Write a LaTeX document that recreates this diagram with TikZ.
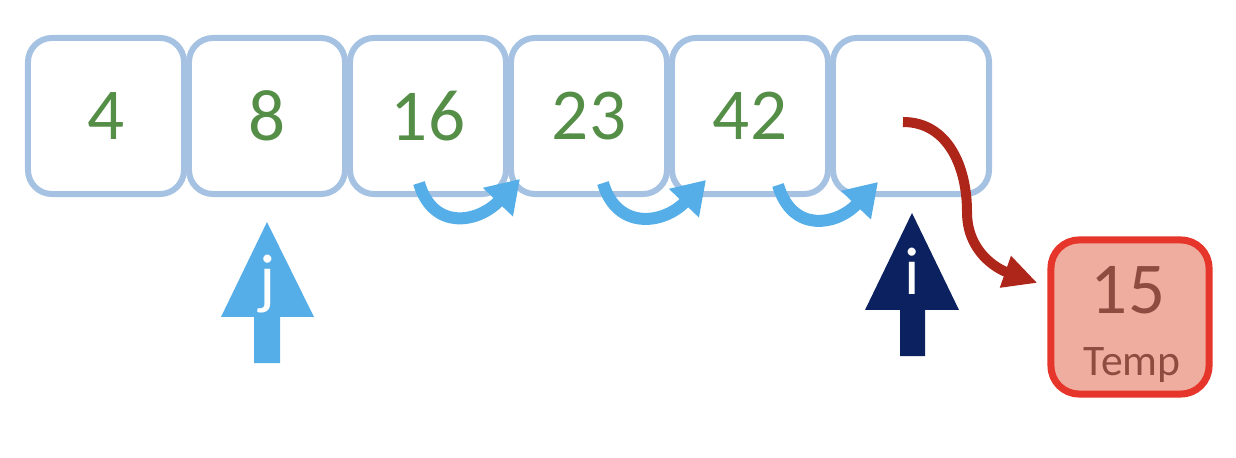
\documentclass[tikz,border=0pt]{standalone}
\usepackage{fontspec}
\setmainfont{Carlito}
\usetikzlibrary{arrows.meta,calc}
\definecolor{cellblue}{HTML}{A6C2E2}
\definecolor{numgreen}{HTML}{548E47}
\definecolor{skyblue}{HTML}{56AEE8}
\definecolor{ptrnavy}{HTML}{0C2160}
\definecolor{swapred}{HTML}{AE2519}
\definecolor{tempfill}{HTML}{EFADA0}
\definecolor{tempdraw}{HTML}{E6352A}
\definecolor{temptext}{HTML}{8E4B3F}
\tikzset{
  cell/.style={draw=cellblue, line width=0.15cm, rounded corners=0.6cm,
    minimum size=3.9cm, text=numgreen, font=\fontsize{52}{60}\selectfont},
  tempbox/.style={draw=tempdraw, fill=tempfill, line width=0.175cm,
    rounded corners=0.7cm, minimum width=3.95cm, minimum height=3.85cm},
  temptxt/.style={text=temptext, inner sep=0pt},
  ptrlabel/.style={text=white, anchor=base, inner sep=0pt,
    font=\fontsize{48}{56}\selectfont},
  shiftarc/.style={draw=skyblue, line width=0.3cm,
    -{Triangle[length=0.8cm,width=0.98cm]}},
  swaparrow/.style={draw=swapred, line width=0.25cm,
    -{Triangle[length=0.85cm,width=0.78cm]}}
}
\begin{document}
\begin{tikzpicture}[x=0.025cm, y=-0.025cm]
      \useasboundingbox (0,0) rectangle (1236,458);
      \draw
        (106,116) node[cell] (a0){4}
        (267,116) node[cell] (a1){8}
        (428,116) node[cell] (a2){16}
        (589,116) node[cell] (a3){23}
        (750,116) node[cell] (a4){42}
        (911,116) node[cell] (a5){};
      \node[tempbox] (temp) at (1130,317) {};
      \node[temptxt, font=\fontsize{52}{60}\selectfont] (val) at (1128,290) {15};
      \node[temptxt, anchor=base, font=\fontsize{31}{36}\selectfont] (lbl) at (1132,375) {Temp};
      \fill[skyblue] (267,222) -- (314,317) -- (280,317) -- (280,363)
        -- (254,363) -- (254,317) -- (221,317) -- cycle;
      \node[ptrlabel] (j) at (268,302) {j};
      \fill[ptrnavy] (912,213) -- (959,310) -- (925,310) -- (925,356)
        -- (900,356) -- (900,310) -- (865,310) -- cycle;
      \node[ptrlabel] (i) at (912,295) {i};
      \begin{scope}
        \draw[shiftarc] ($(a2.south)+(-9,-14)$) .. controls +(14,48) and +(-42,44) .. ($(a3.south west)+(12,-18)$);
        \draw[shiftarc] ($(a3.south)+(14,-14)$) .. controls +(14,48) and +(-42,44) .. ($(a4.south west)+(37,-17)$);
        \draw[shiftarc] ($(a4.south)+(28,-12)$) .. controls +(14,48) and +(-42,44) .. ($(a5.south west)+(48,-15)$);
        \draw[swaparrow] ($(a5.center)+(-8,6)$) .. controls +(45,0) and +(0,-45) .. ++(64,90)
          .. controls +(0,40) and +(-40,-14) .. ($(temp.west)+(-10,-34)$);
      \end{scope}
    \end{tikzpicture}
\end{document}
